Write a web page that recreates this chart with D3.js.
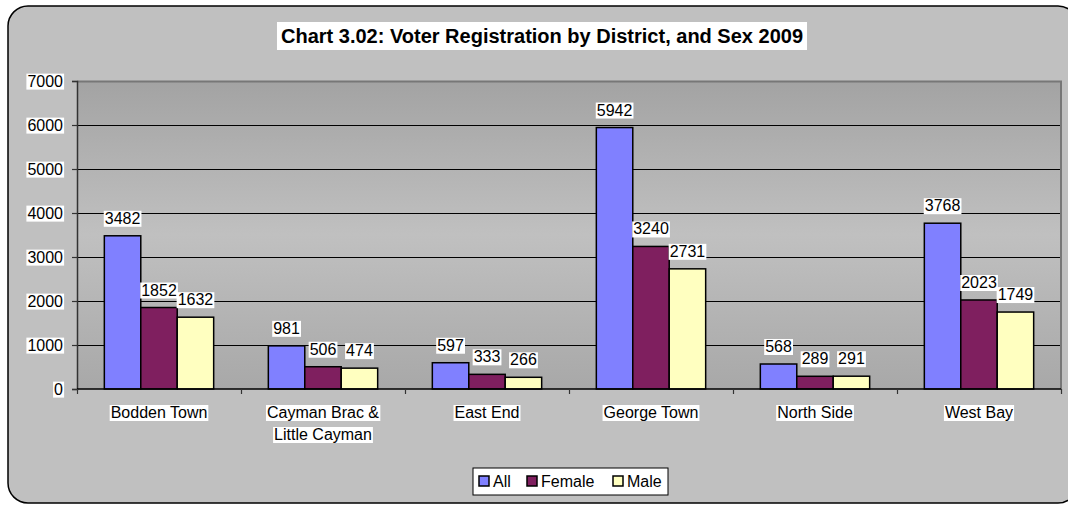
<!DOCTYPE html>
<html><head><meta charset="utf-8">
<script src="https://cdn.jsdelivr.net/npm/d3@7"></script>
<style>html,body{margin:0;padding:0;background:#fff;}svg{display:block;} text{font-family:"Liberation Sans",Arial,sans-serif;}</style>
</head><body><svg id="c" width="1068" height="505"></svg>
<script>
const categories = [["Bodden Town"], ["Cayman Brac &", "Little Cayman"], ["East End"], ["George Town"], ["North Side"], ["West Bay"]];
const seriesNames = ["All", "Female", "Male"];
const allValues = [3482, 981, 597, 5942, 568, 3768];
const femaleValues = [1852, 506, 333, 3240, 289, 2023];
const maleValues = [1632, 474, 266, 2731, 291, 1749];
const yTicks = [0, 1000, 2000, 3000, 4000, 5000, 6000, 7000];
const colors = ["#8080ff", "#7f1f5f", "#ffffc0"];
const title = "Chart 3.02: Voter Registration by District, and Sex 2009";

const FONT = "Liberation Sans, Arial, sans-serif";
const seriesValues = [allValues, femaleValues, maleValues];
const svg = d3.select("#c");
const defs = svg.append("defs");
const grad = defs.append("linearGradient").attr("id","pg").attr("x1",0).attr("y1",0).attr("x2",0).attr("y2",1);
grad.append("stop").attr("offset","0%").attr("stop-color","#a3a3a3");
grad.append("stop").attr("offset","50%").attr("stop-color","#c0c0c0");
grad.append("stop").attr("offset","100%").attr("stop-color","#a8a8a8");

svg.append("rect").attr("x",8).attr("y",6).attr("width",1070).attr("height",497).attr("rx",20)
  .attr("fill","#c0c0c0").attr("stroke","#000").attr("stroke-width",1.5);

const L = 77, R = 1061, T = 81, B = 389;
const x0 = d3.scaleBand().domain(d3.range(categories.length)).range([L, R]).padding(0);
const x1 = d3.scaleBand().domain(seriesNames).range([0, x0.bandwidth()]).paddingInner(0).paddingOuter(0.75);
const y = d3.scaleLinear().domain([0, 7000]).range([B, T]);

svg.append("rect").attr("x",L).attr("y",T).attr("width",R-L).attr("height",B-T).attr("fill","url(#pg)");
// gridlines
svg.append("g").selectAll("line").data(yTicks.filter(d=>d>0 && d<7000)).join("line")
  .attr("x1",L).attr("x2",R).attr("y1",d=>Math.round(y(d))+0.5).attr("y2",d=>Math.round(y(d))+0.5)
  .attr("stroke","#000").attr("stroke-width",1).attr("shape-rendering","crispEdges");
// plot border top/right
svg.append("path").attr("d",`M${L},${T+0.5}H${R}V${B}`).attr("fill","none").attr("stroke","#777").attr("stroke-width",2);

// bars
seriesNames.forEach((s, si) => {
  svg.append("g").selectAll("rect").data(seriesValues[si]).join("rect")
    .attr("x",(d,i)=>x0(i)+x1(s)).attr("width",x1.bandwidth())
    .attr("y",d=>y(d)).attr("height",d=>B-y(d))
    .attr("fill",colors[si]).attr("stroke","#000").attr("stroke-width",1.5);
});

// axes
const yAxis = d3.axisLeft(y).tickValues(yTicks).tickFormat(d3.format("d")).tickSize(5).tickPadding(9);
const gy = svg.append("g").attr("transform",`translate(${L},0)`).call(yAxis).attr("font-family",FONT);
gy.select(".domain").attr("stroke","#333").attr("stroke-width",1.5);
gy.selectAll(".tick line").attr("stroke","#333").attr("stroke-width",1.2);
gy.selectAll(".tick text").attr("font-size",16).attr("font-family",FONT).attr("fill","#000");
gy.selectAll(".tick").each(function(){
  const t = d3.select(this).select("text");
  const bb = t.node().getBBox();
  d3.select(this).insert("rect","text").attr("x",bb.x-1).attr("y",bb.y+1).attr("width",bb.width+2).attr("height",bb.height-1).attr("fill","#fff");
});

const xAxisScale = d3.scaleLinear().domain([0, categories.length]).range([L, R]);
const gx = svg.append("g").attr("transform",`translate(0,${B})`).call(d3.axisBottom(xAxisScale).ticks(categories.length).tickSize(5).tickFormat(""));
gx.select(".domain").attr("stroke","#000").attr("stroke-width",1.5).attr("d",`M${L},0H${R}`);
gx.selectAll(".tick line").attr("stroke","#333").attr("stroke-width",1.2);

// category labels
categories.forEach((lines, i) => {
  const cx = x0(i) + x0.bandwidth()/2;
  lines.forEach((ln, li) => {
    const g = svg.append("g");
    const t = g.append("text").attr("x",cx).attr("y",418 + li*22).attr("text-anchor","middle")
      .attr("font-size",16).attr("font-family",FONT).text(ln);
    const bb = t.node().getBBox();
    g.insert("rect","text").attr("x",bb.x-1).attr("y",bb.y+1).attr("width",bb.width+2).attr("height",bb.height-1).attr("fill","#fff");
  });
});

// data labels
seriesNames.forEach((s, si) => {
  seriesValues[si].forEach((v, i) => {
    const cx = x0(i) + x1(s) + x1.bandwidth()/2;
    const g = svg.append("g");
    const t = g.append("text").attr("x",cx).attr("y",y(v)-12).attr("text-anchor","middle").attr("font-size",16).attr("font-family",FONT).text(v);
    const bb = t.node().getBBox();
    g.insert("rect","text").attr("x",bb.x-1).attr("y",bb.y+1).attr("width",bb.width+2).attr("height",bb.height-1).attr("fill","#fff");
  });
});

// title
{
  const g = svg.append("g");
  const t = g.append("text").attr("x",542).attr("y",43).attr("text-anchor","middle").attr("font-size",20).attr("font-weight","bold").attr("font-family",FONT).text(title);
  const bb = t.node().getBBox();
  g.insert("rect","text").attr("x",bb.x-4).attr("y",22).attr("width",bb.width+8).attr("height",28).attr("fill","#fff");
}

// legend
{
  const g = svg.append("g");
  g.append("rect").attr("x",473).attr("y",468).attr("width",195).attr("height",27).attr("fill","#fff").attr("stroke","#000").attr("stroke-width",1);
  const xs = [479, 527, 613];
  seriesNames.forEach((s, si) => {
    g.append("rect").attr("x",xs[si]).attr("y",476).attr("width",10).attr("height",10).attr("fill",colors[si]).attr("stroke","#000").attr("stroke-width",1.5);
    g.append("text").attr("x",xs[si]+14).attr("y",487).attr("font-size",16).attr("font-family",FONT).text(s);
  });
}
</script></body></html>
